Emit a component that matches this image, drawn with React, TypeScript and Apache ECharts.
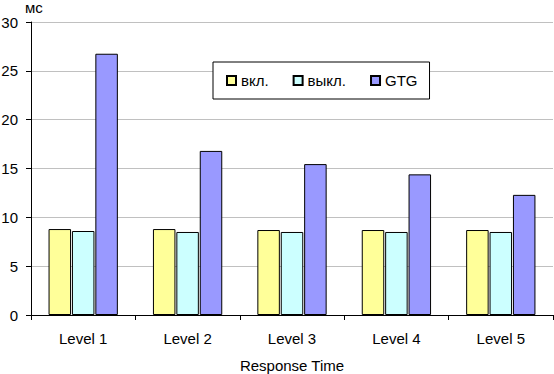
import React, { useEffect, useRef } from "react";
import * as echarts from "echarts";

const categories = ["Level 1", "Level 2", "Level 3", "Level 4", "Level 5"];
const seriesNames = ["вкл.", "выкл.", "GTG"];
const onValues = [8.8, 8.8, 8.7, 8.7, 8.7];
const offValues = [8.6, 8.5, 8.5, 8.5, 8.5];
const gtgValues = [26.75, 16.8, 15.45, 14.4, 12.3];
const colors = ["#FFFF99", "#CCFFFF", "#9999FF"];

const FONT = 'Arial, "Liberation Sans", sans-serif';

export default function App() {
  const ref = useRef<HTMLDivElement>(null);
  useEffect(() => {
    if (!ref.current) return;
    const chart = echarts.init(ref.current, undefined, { renderer: "svg" });
    const data = [onValues, offValues, gtgValues];
    chart.setOption({
      animation: false,
      textStyle: { fontFamily: FONT },
      grid: {
        left: 31,
        right: 1,
        top: 22,
        bottom: 59,
        containLabel: false,
        outerBoundsMode: "none",
      },
      legend: {
        left: 213,
        top: 62,
        orient: "horizontal",
        padding: [11, 12, 11, 13],
        itemGap: 24,
        itemWidth: 9,
        itemHeight: 9,
        icon: "rect",
        backgroundColor: "#fff",
        borderColor: "#000",
        borderWidth: 1,
        textStyle: { fontSize: 15, color: "#000", fontFamily: FONT },
        data: seriesNames,
      },
      graphic: [
        {
          type: "text",
          left: 25,
          top: 0,
          style: { text: "мс", fill: "#000", font: `15px ${FONT}` },
        },
      ],
      xAxis: {
        type: "category",
        data: categories,
        name: "Response Time",
        nameLocation: "middle",
        nameGap: 43,
        nameTextStyle: { fontSize: 15, color: "#000", fontFamily: FONT },
        axisLine: { lineStyle: { color: "#000", width: 1 } },
        axisTick: { show: true, length: 5, lineStyle: { color: "#000" } },
        axisLabel: { fontSize: 15, color: "#000", margin: 16, fontFamily: FONT },
        splitLine: { show: false },
      },
      yAxis: {
        type: "value",
        min: 0,
        max: 30,
        interval: 5,
        axisLine: { show: true, lineStyle: { color: "#000", width: 1 } },
        axisTick: { show: true, length: 5, lineStyle: { color: "#000" } },
        axisLabel: { fontSize: 15, color: "#000", margin: 13, fontFamily: FONT },
        splitLine: { show: true, lineStyle: { color: "#C0C0C0", width: 1 } },
      },
      series: seriesNames.map((name, i) => ({
        name,
        type: "bar",
        data: data[i],
        barWidth: 22.5,
        barGap: "4%",
        itemStyle: { color: colors[i], borderColor: "#000", borderWidth: 1 },
      })),
    });
    return () => chart.dispose();
  }, []);
  return (
    <div
      ref={ref}
      style={{ position: "fixed", left: 0, top: 0, width: 554, height: 374, background: "#fff" }}
    />
  );
}
